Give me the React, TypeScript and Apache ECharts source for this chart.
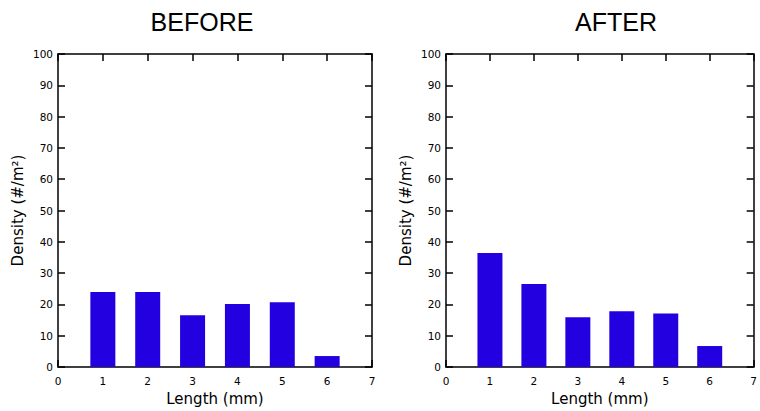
import React, { useEffect, useRef } from "react";
import * as echarts from "echarts";

const lengthValues = [1, 2, 3, 4, 5, 6];
const beforeDensity = [24, 24, 16.5, 20.1, 20.7, 3.5];
const afterDensity = [36.4, 26.5, 15.9, 17.8, 17.1, 6.7];
const panelTitles = ["BEFORE", "AFTER"];
const xName = "Length (mm)";
const yName = "Density (#/m\u00B2)";

const tickFont = "DejaVu Sans";
const nameFont = "DejaVu Sans";

export default function App() {
  const ref = useRef<HTMLDivElement>(null);
  useEffect(() => {
    if (!ref.current) return;
    const chart = echarts.init(ref.current, undefined, { renderer: "svg" });
    const lineStyle = { color: "#000", width: 1.5 };
    const grids = [
      { left: 58, top: 54, width: 314, height: 313 },
      { left: 446, top: 54, width: 313, height: 313 },
    ];
    const xAxes: any[] = [];
    const yAxes: any[] = [];
    grids.forEach((_, gi) => {
      xAxes.push({
        type: "value",
        gridIndex: gi,
        position: "bottom",
        min: 0,
        max: 7,
        interval: 1,
        name: xName,
        nameLocation: "middle",
        nameGap: 24,
        nameTextStyle: { fontFamily: nameFont, fontSize: 15, color: "#000" },
        axisLine: { show: true, onZero: false, lineStyle },
        axisTick: { show: true, inside: true, length: 7, lineStyle },
        axisLabel: { margin: 8, fontFamily: tickFont, fontSize: 10.5, color: "#000" },
        splitLine: { show: false },
      });
      xAxes.push({
        type: "value",
        gridIndex: gi,
        position: "top",
        min: 0,
        max: 7,
        interval: 1,
        axisLine: { show: true, onZero: false, lineStyle },
        axisTick: { show: true, inside: true, length: 7, lineStyle },
        axisLabel: { show: false },
        splitLine: { show: false },
      });
      yAxes.push({
        type: "value",
        gridIndex: gi,
        position: "left",
        min: 0,
        max: 100,
        interval: 10,
        name: yName,
        nameLocation: "middle",
        nameGap: 33,
        nameTextStyle: { fontFamily: nameFont, fontSize: 15, color: "#000" },
        axisLine: { show: true, onZero: false, lineStyle },
        axisTick: { show: true, inside: true, length: 7, lineStyle },
        axisLabel: { margin: 5, fontFamily: tickFont, fontSize: 10.5, color: "#000" },
        splitLine: { show: false },
      });
      yAxes.push({
        type: "value",
        gridIndex: gi,
        position: "right",
        min: 0,
        max: 100,
        interval: 10,
        axisLine: { show: true, onZero: false, lineStyle },
        axisTick: { show: true, inside: true, length: 7, lineStyle },
        axisLabel: { show: false },
        splitLine: { show: false },
      });
    });
    const datasets = [beforeDensity, afterDensity];
    chart.setOption({
      animation: false,
      backgroundColor: "#fff",
      grid: grids,
      xAxis: xAxes,
      yAxis: yAxes,
      graphic: panelTitles.map((t, i) => ({
        type: "text",
        x: i === 0 ? 202 : 616,
        y: 21.5,
        style: {
          text: t,
          font: '25px "Liberation Sans", Arial, sans-serif',
          textAlign: "center",
          textVerticalAlign: "middle",
          fill: "#000",
        },
      })),
      series: datasets.map((vals, i) => ({
        type: "bar",
        xAxisIndex: i * 2,
        yAxisIndex: i * 2,
        barWidth: 25,
        itemStyle: { color: "#2200e0" },
        data: lengthValues.map((x, k) => [x, vals[k]]),
      })),
    });
    return () => chart.dispose();
  }, []);
  return (
    <div
      ref={ref}
      style={{ position: "fixed", left: 0, top: 0, width: 760, height: 411 }}
    />
  );
}
